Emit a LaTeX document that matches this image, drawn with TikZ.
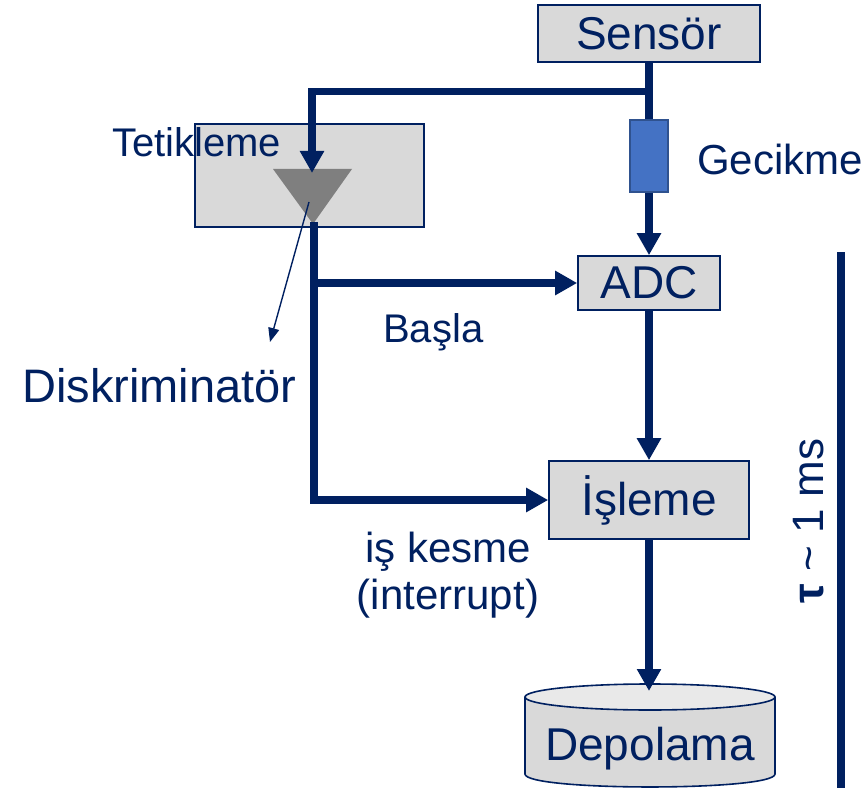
\documentclass[tikz,border=0pt]{standalone}
\usepackage{fontspec}
\setmainfont{Liberation Sans}
\usetikzlibrary{arrows.meta,positioning}
\definecolor{navyline}{HTML}{002060}
\definecolor{boxgray}{HTML}{D9D9D9}
\definecolor{lidgray}{HTML}{E9E9E9}
\definecolor{delayblue}{HTML}{4472C4}
\definecolor{delayedge}{HTML}{2F528F}
\definecolor{discgray}{HTML}{7F7F7F}
\newcommand{\bigtxt}{\fontsize{46}{52}\selectfont}
\newcommand{\smalltxt}{\fontsize{40}{50}\selectfont}

\begin{document}
\begin{tikzpicture}[x=1pt,y=-1pt,
  every node/.style={text=navyline,inner sep=0pt},
  block/.style={draw=navyline,line width=1.6pt,fill=boxgray,font=\bigtxt},
  bus/.style={navyline,line width=7.5pt},
  flow/.style={bus,-{Triangle[length=22pt,width=23pt]}},
  pointer/.style={navyline,line width=1.4pt,-{Triangle[length=14pt,width=11pt]}},
  lbl/.style={font=\smalltxt}]
\useasboundingbox (0,0) rectangle (868,789);

% --- boxes
\node[block,minimum width=222pt,minimum height=57pt] (sensor) at (649,33.5) {Sensör};
\node[block,minimum width=229pt,minimum height=103pt] (tetik) at (309.5,175.5) {};
\node[draw=delayedge,line width=1.2pt,fill=delayblue,
      minimum width=38pt,minimum height=72pt] (gecikme) at (649,156) {};
\node[block,minimum width=142pt,minimum height=54pt] (adc) at (649,283) {ADC};
\node[block,minimum width=200pt,minimum height=78pt] (isleme) at (649,500) {İşleme};

% --- storage
\filldraw[fill=boxgray,draw=navyline,line width=1.6pt]
  (525,697) -- (525,774) .. controls (525,791.3) and (775,791.3) .. (775,774) -- (775,697);
\filldraw[fill=lidgray,draw=navyline,line width=1.6pt] (650,697) ellipse [x radius=125,y radius=13];
\node[font=\bigtxt,anchor=base] (depo) at (650,760) {Depolama};
\coordinate (depotop) at (649,691);

% --- discriminator
\coordinate (dleft) at (273,169);
\coordinate (dright) at (352,169);
\coordinate (dtip) at (313,224);
\fill[discgray] (dleft) -- (dright) -- (dtip) -- cycle;
\coordinate (din) at (312,173);
\coordinate (dout) at (314,222);
\coordinate (dmid) at (309,202);
\coordinate (dpoint) at (270,342);
\coordinate (split) at (649,91.5);

% --- labels
\node[lbl,anchor=base west] (tetiklbl) at (112,157) {Tetikleme};
\node[font=\fontsize{42}{50}\selectfont,anchor=base west] (geclbl) at (697,175) {Gecikme};
\node[lbl,anchor=base west] (basla) at (383,342) {Başla};
\node[font=\fontsize{47}{52}\selectfont,anchor=base west] (disk) at (22,402) {Diskriminatör};
\node[font=\fontsize{42}{47}\selectfont,align=center,anchor=north] (kesme) at (448,532)
  {iş kesme\\(interrupt)};
\node[font=\fontsize{44}{50}\selectfont,rotate=90,anchor=base] (tau) at (823,521)
  {\textbf{τ} \textasciitilde{} 1 ms};

% --- connectors
\draw[bus] (sensor.south) -- (gecikme.north);
\draw[flow] (split) -| (din);
\draw[flow] (gecikme.south) -- (adc.north);
\draw[flow] (dout) |- (isleme.west);
\draw[flow] (dout |- adc.west) -- (adc.west);
\draw[flow] (adc.south) -- (isleme.north);
\draw[flow] (isleme.south) -- (depotop);
\draw[pointer] (dmid) -- (dpoint);
\coordinate (ttop) at (841,252);
\coordinate (tbot) at (841,788);
\draw[bus] (ttop) -- (tbot);
\end{tikzpicture}
\end{document}
